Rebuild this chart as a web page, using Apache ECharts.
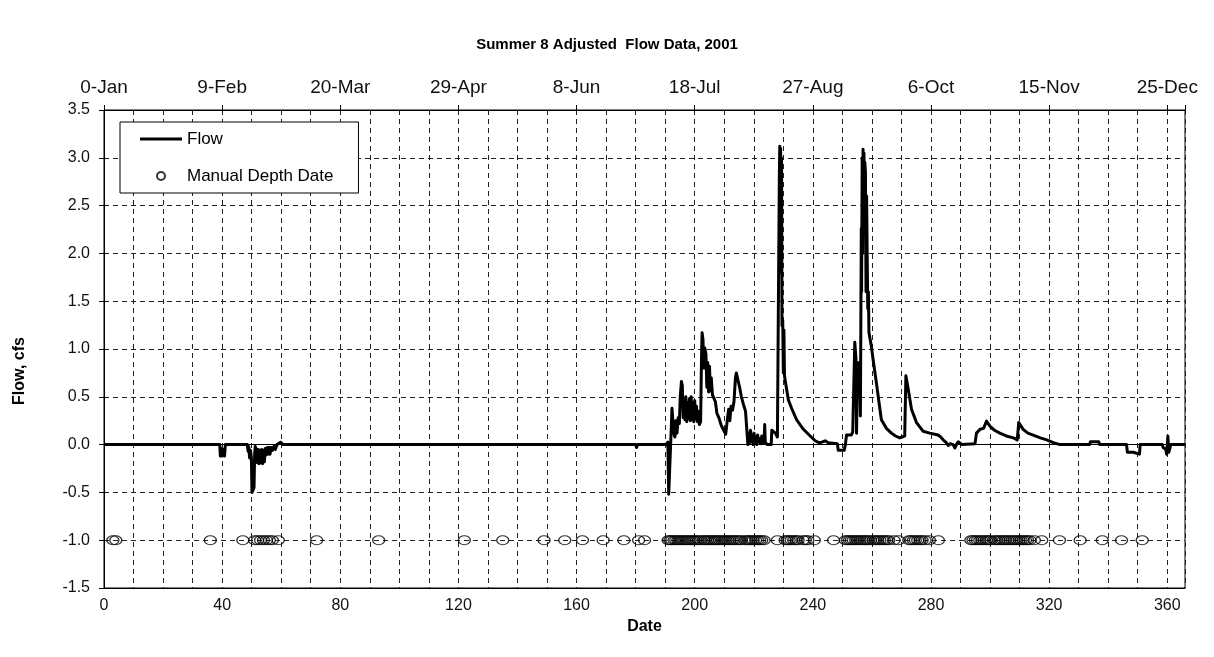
<!DOCTYPE html>
<html><head><meta charset="utf-8">
<script src="https://cdn.jsdelivr.net/npm/echarts@6/dist/echarts.min.js"></script>
<style>html,body{margin:0;padding:0;background:#fff}#c{width:1214px;height:657px}</style>
</head><body><div id="c"></div>
<script>
const titleText = 'Summer 8 Adjusted  Flow Data, 2001';
const topTickLabels = ['0-Jan','9-Feb','20-Mar','29-Apr','8-Jun','18-Jul','27-Aug','6-Oct','15-Nov','25-Dec'];
const bottomTickLabels = ['0','40','80','120','160','200','240','280','320','360'];
const yTickLabels = ['-1.5','-1.0','-0.5','0.0','0.5','1.0','1.5','2.0','2.5','3.0','3.5'];

// Flow, cfs  : [day, value]
const flowPoints = [
[0,0],[39.2,0],[39.4,-0.12],[39.7,-0.04],[40,-0.12],[40.4,-0.05],[40.8,-0.12],[41.1,0],
[48.5,0],[48.8,-0.07],[49,-0.02],[49.3,-0.14],[49.6,-0.06],[49.9,-0.14],[50.1,-0.5],[50.5,-0.52],[50.8,-0.45],[51,-0.1],[51.2,-0.02],[51.6,-0.05],[51.9,-0.19],[52.2,-0.05],[52.5,-0.2],[52.8,-0.06],[53.1,-0.19],[53.4,-0.05],[53.7,-0.2],[54,-0.06],[54.3,-0.18],[54.6,-0.04],[54.9,-0.11],[55.3,-0.03],[55.6,-0.1],[55.9,-0.03],[56.2,-0.1],[56.6,-0.03],[57,-0.06],[57.5,-0.02],[58,-0.05],[58.6,0],[59.8,0.025],[60.6,0],
[180,0],[180.3,-0.03],[180.7,0],[190.2,0],[190.9,0.025],[191.2,-0.52],[191.8,-0.52],[192.1,0.2],[192.3,0.38],[192.7,0.36],[192.9,0.12],[193.3,0.08],[193.6,0.25],[194,0.12],[194.4,0.28],[194.8,0.22],[195.1,0.5],[195.5,0.66],[195.8,0.62],[196.1,0.28],[196.4,0.45],[196.7,0.26],[197,0.5],[197.3,0.24],[197.6,0.44],[197.9,0.27],[198.2,0.48],[198.5,0.25],[198.8,0.5],[199.1,0.26],[199.4,0.44],[199.7,0.24],[200,0.46],[200.3,0.27],[200.6,0.4],[200.9,0.24],[201.2,0.35],[201.6,0.21],[202,0.24],[202.3,0.9],[202.5,1.17],[202.8,1.1],[203.1,0.8],[203.4,1.01],[203.8,0.95],[204.1,0.6],[204.4,0.86],[204.7,0.55],[205,0.82],[205.3,0.56],[205.6,0.7],[206,0.52],[206.5,0.5],[207,0.45],[207.5,0.33],[208.2,0.28],[209,0.2],[209.8,0.15],[210.5,0.11],[210.9,0.09],[211.2,0.3],[211.5,0.37],[211.9,0.25],[212.3,0.4],[212.8,0.36],[213.3,0.45],[213.8,0.7],[214.1,0.75],[214.6,0.68],[215.2,0.6],[215.8,0.5],[216.5,0.42],[217.2,0.35],[217.7,0.33],[218,0],[218.3,0.12],[218.6,0.02],[218.9,0.15],[219.2,0.03],[219.5,0.1],[219.8,0],[220.1,0.12],[220.4,0.02],[220.7,0.08],[221,0],[221.3,0.1],[221.6,0.03],[222,0.06],[222.3,0.01],[222.7,0.09],[223.1,0.02],[223.5,0.05],[223.7,0.21],[223.9,0.02],[224.6,0],[225.9,0],[226.1,0.15],[226.6,0.13],[227.3,0.12],[228,0.08],[228.5,0.06],[228.65,2.8],[228.8,3.12],[228.95,2],[229.1,3.1],[229.25,1.8],[229.4,3],[229.55,1.24],[229.8,1.3],[230,0.75],[230.2,1.2],[230.4,0.72],[230.8,0.64],[231.7,0.47],[232.8,0.38],[234.5,0.26],[236.8,0.16],[239.1,0.09],[240.8,0.04],[242,0.02],[243,0.025],[244.2,0.04],[245.2,0.02],[248.3,0.01],[248.6,-0.06],[250.6,-0.06],[251,0],[251.4,0.1],[253,0.1],[253.5,0.13],[254,0.14],[254.2,1.07],[254.6,0.9],[254.8,0.12],[255.1,0.86],[255.5,0.5],[255.8,0.86],[256.1,0.3],[256.4,2.26],[256.5,1.6],[256.7,3],[256.85,2],[257,3.09],[257.15,2.2],[257.3,3.05],[257.45,2.4],[257.6,2.95],[257.8,2.85],[258,1.6],[258.2,2.6],[258.4,1.98],[258.6,1.42],[258.8,1.6],[259,1.17],[259.8,1.03],[260.4,0.89],[261.5,0.65],[262.4,0.44],[263.2,0.26],[264.9,0.17],[266.6,0.12],[268,0.09],[269.4,0.07],[271.1,0.09],[271.5,0.72],[272.3,0.58],[273.4,0.37],[275.1,0.23],[277.3,0.14],[279.6,0.12],[282.4,0.1],[283.3,0.08],[284.1,0.05],[285.2,0.02],[285.8,-0.01],[286.5,0.01],[287.5,0],[288.1,-0.035],[288.6,0],[289.2,0.03],[290.5,0],[294.9,0.01],[295.4,0.12],[296,0.1],[296.6,0.16],[297.8,0.17],[298.8,0.245],[300,0.19],[301.5,0.15],[303.3,0.12],[305.5,0.09],[307.9,0.07],[309.2,0.05],[309.7,0.23],[311.2,0.16],[312.8,0.12],[314.6,0.1],[317,0.07],[319.2,0.05],[321.4,0.02],[323.7,0],[333.7,0],[334,0.03],[336.8,0.03],[337.1,0],[346.2,0],[346.5,-0.08],[348.5,-0.08],[348.8,-0.1],[350.6,-0.1],[350.8,0],[358.3,0],[358.6,-0.03],[359.5,-0.05],[359.8,-0.1],[360.2,0.09],[360.5,-0.08],[361.2,0],[366,0]
];

// Manual depth measurement days (plotted at -1.0)
const depthDays = [3,4,36,47,51,52,53,54,55,56,57,59,72,93,122,135,149,156,162,169,176,181,183,
191,191.6,192.2,193,193.6,194.3,195,195.7,196.5,197.2,197.8,198.5,199.2,199.8,200.5,201.2,202,203,203.6,204.3,205,205.7,206.4,207,207.7,208.4,209.2,210,210.6,211.3,212,212.7,213.4,214.2,215,215.7,217,217.7,218.4,219.1,219.8,220.6,221.3,222,222.7,223.5,
228,230.6,231.3,232,232.7,233.5,234.3,235,236.7,237.5,238.3,240.5,247,
251,251.7,252.4,253,253.7,254.5,255.2,256,256.7,257.4,258,258.7,259.5,260.5,261.2,262,262.7,263.5,264.2,265,265.7,267.5,269,
272.5,273.2,274,274.7,275.5,276.3,277,278,279.5,282.5,
293.5,294.2,295,295.7,296.5,297.2,298,298.8,299.5,300.2,301.5,302.2,303,303.7,304.5,305.2,306,306.7,307.5,308.2,309,309.8,310.5,311.2,312,312.7,313.5,315,317.5,
323.5,330.5,338,344.5,351.5];
const depthLevel = -1.0;

const FONT = '"Liberation Sans", Arial, sans-serif';
const chart = echarts.init(document.getElementById('c'), null, {renderer:'canvas'});
const dash = {color:'#222', width:1, type:[5,4]};
chart.setOption({
  animation:false,
  backgroundColor:'#fff',
  textStyle:{fontFamily:FONT},
  title:{text:titleText, left:'center', top:37, padding:0,
    textStyle:{fontSize:15, fontWeight:'bold', color:'#000', fontFamily:FONT}},
  legend:{orient:'vertical', left:120, top:122, padding:[8,25,8,20], itemGap:19,
    itemWidth:42, itemHeight:8, borderColor:'#000', borderWidth:1, backgroundColor:'#fff',
    textStyle:{fontSize:17, lineHeight:18, color:'#000', fontFamily:FONT},
    data:[{name:'Flow', icon:'path://M0,0H42V3H0Z'},{name:'Manual Depth Date', icon:'circle'}]},
  grid:{left:104, right:29, top:110, bottom:69, show:true, borderColor:'#000', borderWidth:1, backgroundColor:'transparent'},
  xAxis:[
    {type:'value', position:'bottom', min:0, max:366, interval:10,
     name:'Date', nameLocation:'middle', nameGap:31,
     nameTextStyle:{fontSize:16, fontWeight:'bold', color:'#000', fontFamily:FONT},
     axisLine:{show:true, onZero:false, lineStyle:{color:'#000'}},
     axisTick:{show:false},
     axisLabel:{fontSize:16, color:'#111', margin:10, fontFamily:FONT,
       formatter:v => (v % 40 === 0 && v <= 360) ? bottomTickLabels[v/40] : ''},
     splitLine:{show:true, lineStyle:dash}},
    {type:'value', position:'top', min:0, max:366, interval:40,
     axisLine:{show:true, onZero:false, lineStyle:{color:'#000'}},
     axisTick:{show:true, length:5, lineStyle:{color:'#000'}},
     axisLabel:{fontSize:19, color:'#111', margin:13, fontFamily:FONT,
       formatter:v => (v % 40 === 0 && v <= 360) ? topTickLabels[v/40] : ''},
     splitLine:{show:false}}
  ],
  yAxis:{type:'value', min:-1.5, max:3.5, interval:0.5,
    name:'Flow, cfs', nameLocation:'middle', nameGap:76,
    nameTextStyle:{fontSize:16, fontWeight:'bold', color:'#000', fontFamily:FONT, padding:[0,44,0,0]},
    axisLine:{show:true, onZero:false, lineStyle:{color:'#000'}},
    axisTick:{show:true, length:5, lineStyle:{color:'#000'}},
    axisLabel:{fontSize:16, color:'#111', margin:14, fontFamily:FONT,
      formatter:v => yTickLabels[Math.round((v + 1.5) / 0.5)]},
    splitLine:{show:true, lineStyle:dash}},
  series:[
    {name:'Flow', type:'line', data:flowPoints, showSymbol:false, symbol:'none',
     lineStyle:{color:'#000', width:3, join:'round'}, itemStyle:{color:'#000'}, z:3},
    {name:'Manual Depth Date', type:'scatter', data:depthDays.map(d => [d, depthLevel]),
     symbol:'circle', symbolSize:[12,9],
     itemStyle:{color:'rgba(0,0,0,0)', borderColor:'#000', borderWidth:1.2}, z:2,
     markLine:{silent:true, symbol:'none', label:{show:false}, animation:false,
       lineStyle:{color:'#000', width:1, type:'solid'}, data:[{yAxis:0}]}}
  ]
});
</script></body></html>
